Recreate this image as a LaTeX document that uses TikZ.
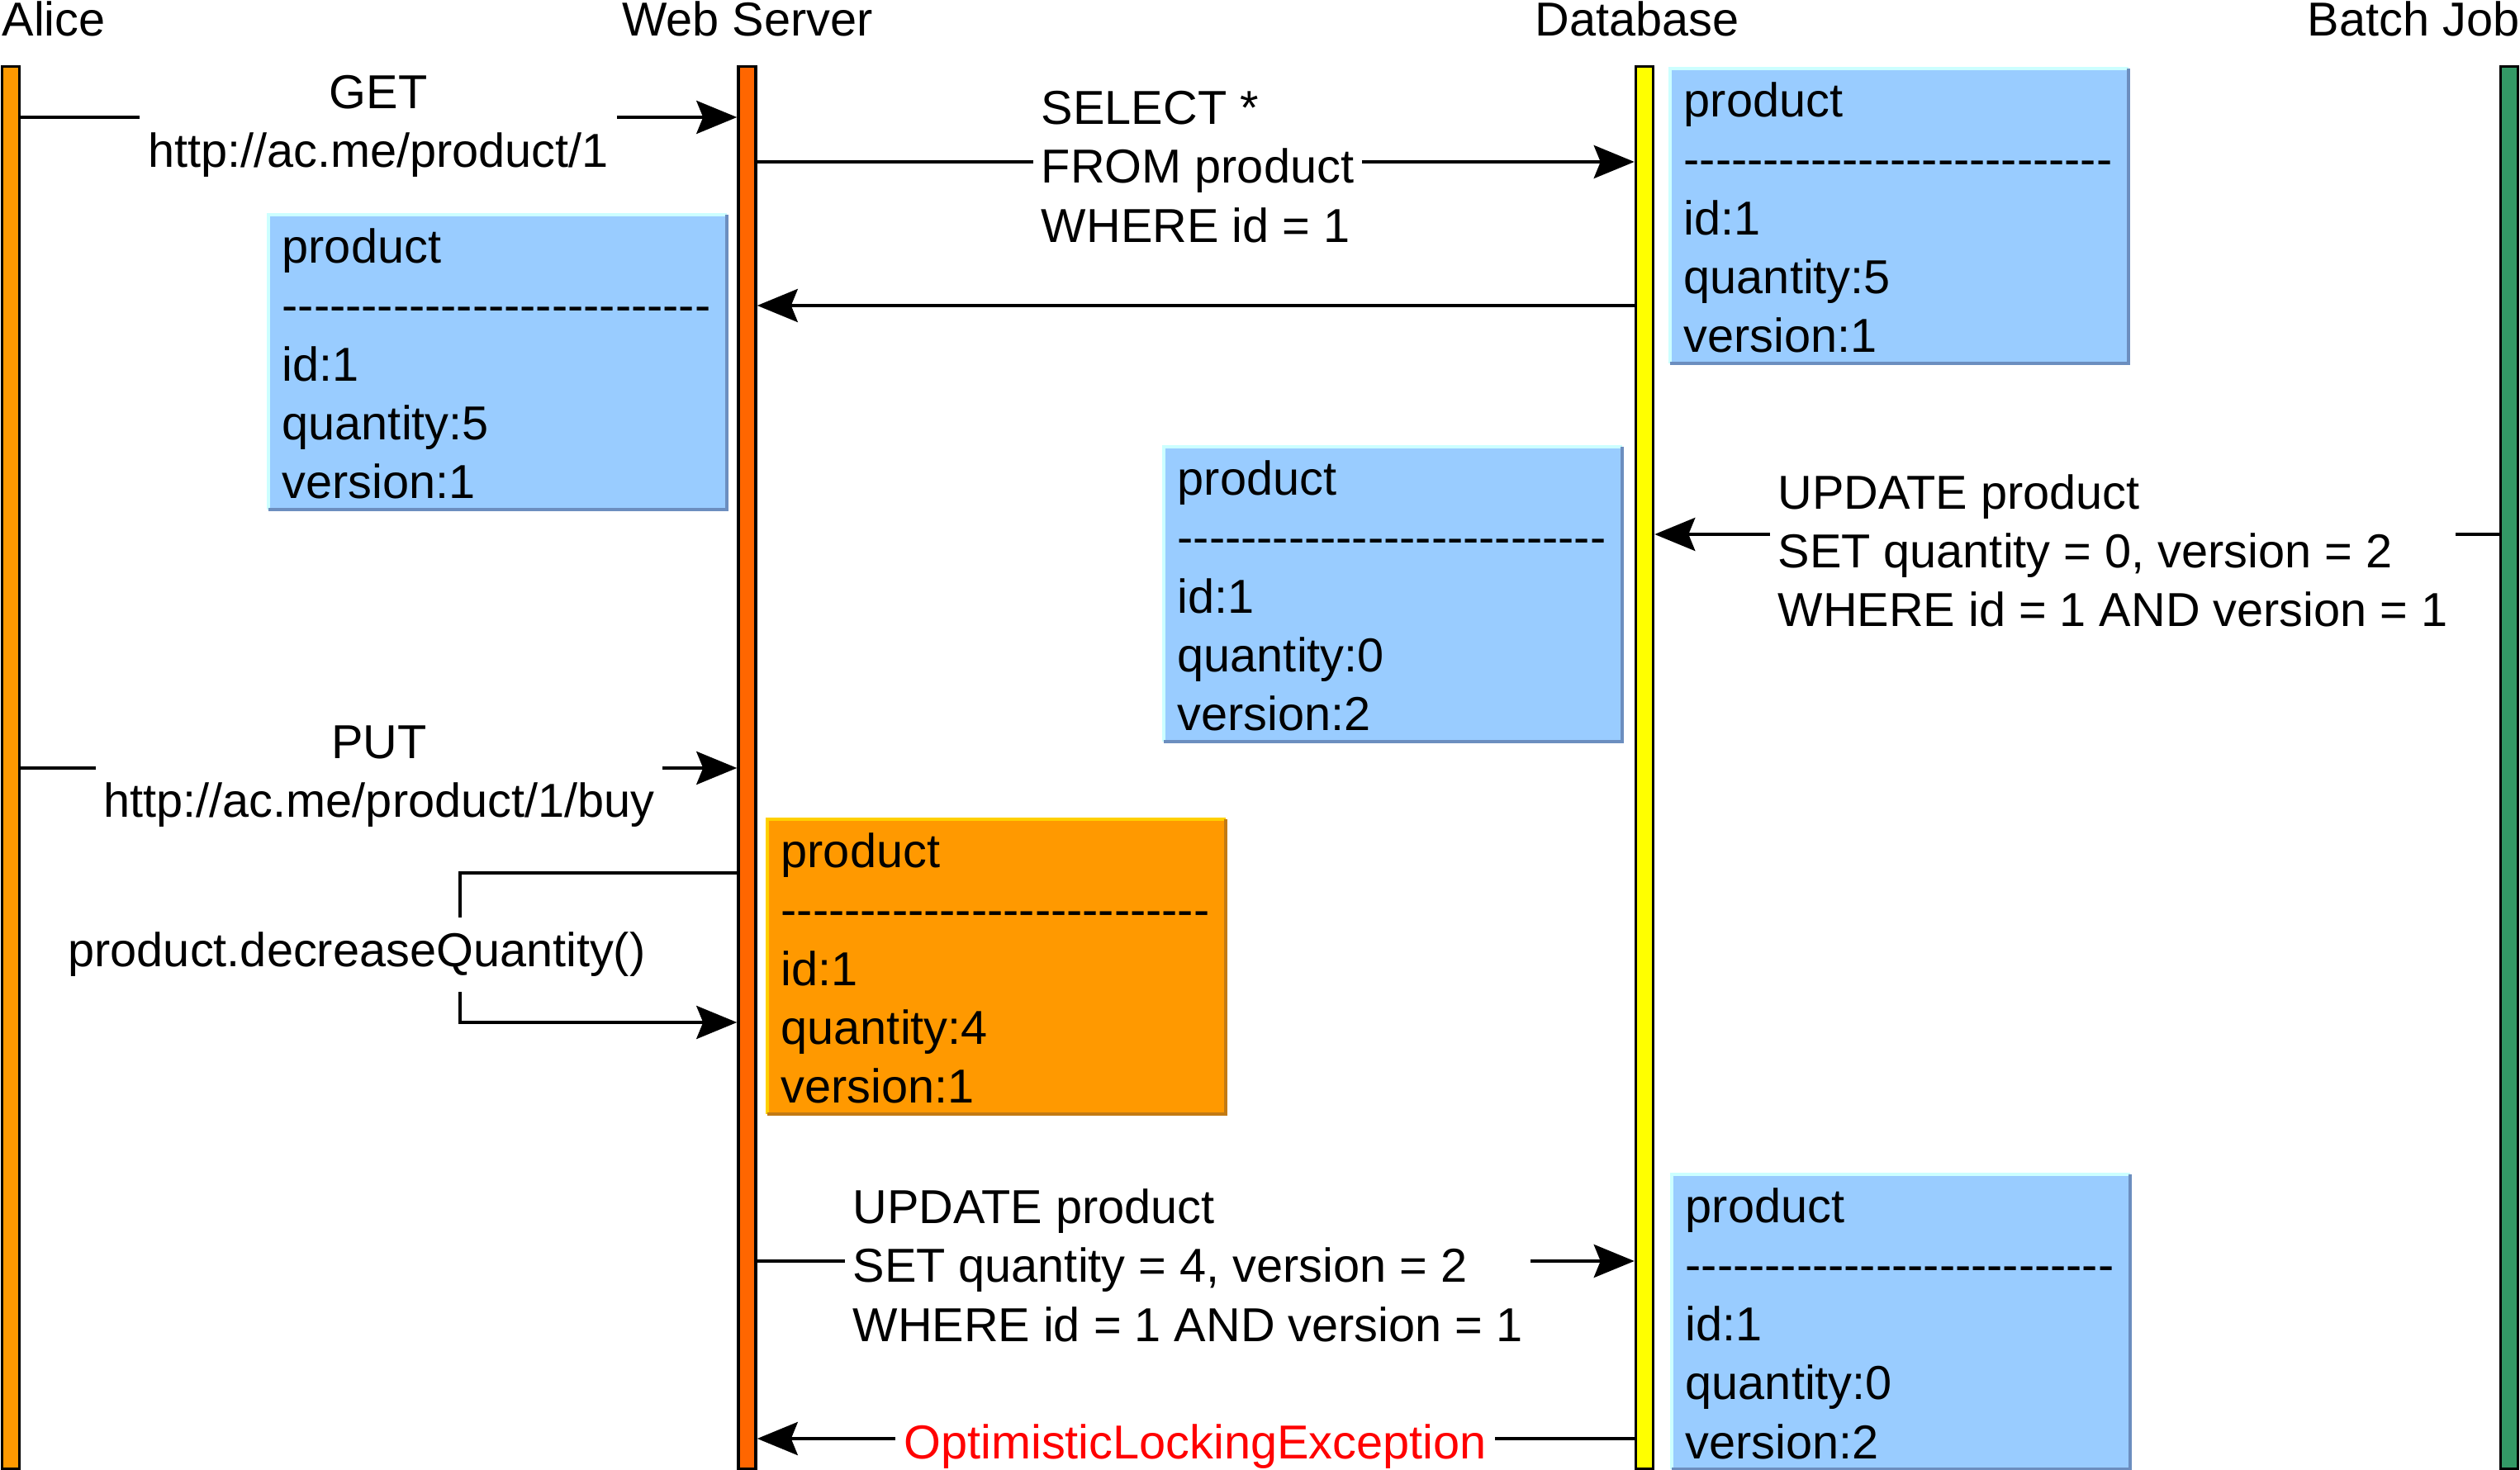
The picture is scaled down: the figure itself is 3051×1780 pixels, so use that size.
\documentclass[tikz,border=0pt]{standalone}
\usepackage{fontspec}
\setmainfont{Liberation Sans}
\usepackage{tikz}
\usetikzlibrary{arrows.meta}
\definecolor{alicebar}{HTML}{FF9900}
\definecolor{serverbar}{HTML}{FF6600}
\definecolor{dbbar}{HTML}{FFFF00}
\definecolor{batchbar}{HTML}{339966}
\definecolor{bluefill}{HTML}{99CCFF}
\definecolor{bluetop}{HTML}{CCFFFF}
\definecolor{blueedge}{HTML}{6C8EBF}
\definecolor{orangefill}{HTML}{FF9900}
\definecolor{orangetop}{HTML}{FFD000}
\definecolor{orangeedge}{HTML}{C27A14}
\definecolor{errred}{HTML}{FF0000}
\newcommand{\dashes}{\mbox{\foreach \k in {1,...,27}{-\kern0pt}}}
\newcommand{\productbox}[5][blue] % [colour]{name}{x,y}{quantity}{version}
{
	\node[record, fill=#1fill] (#2) at (#3) {\rule{0pt}{0.46cm}product\\\dashes\\id:1\\quantity:#4\\version:#5};
	\draw [#1top, line width=0.04cm] (#2.south west) -- (#2.north west) -- (#2.north east);
	\draw [#1edge, line width=0.04cm] (#2.north east) -- (#2.south east) -- (#2.south west);
}
\tikzset{
	bar/.style={draw, line width=0.035cm, minimum width=0.21cm, minimum height=16.97cm, inner sep=0},
	record/.style={anchor=north west, minimum width=5.53cm, minimum height=3.53cm, text width=5.21cm, inner xsep=0.16cm, align=left},
	msg/.style={line width=0.04cm, -{Stealth[length=0.49cm, width=0.40cm, inset=0.08cm]}},
	msgtext/.style={fill=white, inner xsep=0.1cm, inner ysep=0.02cm}
}

\begin{document}
\begin{tikzpicture}[x=0.01cm, y=-0.01cm, font=\fontsize{16.4}{20.3}\selectfont]
	\useasboundingbox (0,0) rectangle (3051,1780);
	%Alice, Web Server, Database, Batch Job.
	\node[bar, fill=alicebar] (alice) at (13,929.4) {};
	\node[bar, fill=serverbar] (server) at (904.5,929.4) {};
	\node[bar, fill=dbbar] (db) at (1991,929.4) {};
	\node[bar, fill=batchbar] (batch) at (3038,929.4) {};
	
	\node[anchor=base west, inner sep=0] (alice-title) at (2,44) {Alice};
	\node[anchor=base, inner sep=0] (server-title) at (905,44) {Web Server};
	\node[anchor=base, inner sep=0] (db-title) at (1982,44) {Database};
	\node[anchor=base east, inner sep=0] (batch-title) at (3051,44) {Batch Job};
	
	\productbox{readrow}{325,260}{5}{1}
	\productbox{dbrow}{2022,83}{5}{1}
	\productbox{batchrow}{1409,541}{0}{2}
	\productbox[orange]{changedrow}{929,992}{4}{1}
	\productbox{lastrow}{2024,1422}{0}{2}
	
	\draw [msg] (alice.east |- 0,142) -- (server.west |- 0,142);
	\draw [msg] (server.east |- 0,196) -- (db.west |- 0,196);
	\draw [msg] (db.west |- 0,370) -- (server.east |- 0,370);
	\draw [msg] (batch.west |- 0,647) -- (db.east |- 0,647);
	\draw [msg] (alice.east |- 0,930) -- (server.west |- 0,930);
	\coordinate (loop) at (557,1148);
	\draw [msg] (server.west |- 0,1057) -| (loop) |- (server.west |- 0,1238);
	\draw [msg] (server.east |- 0,1527) -- (db.west |- 0,1527);
	\draw [msg] (db.west |- 0,1742) -- (server.east |- 0,1742);
	
	\node[msgtext, align=center] (get) at (458,153) {GET\\http://ac.me/product/1};
	\node[msgtext, align=left] (select) at (1450,202) {SELECT *\\FROM product\\WHERE id = 1};
	\node[msgtext, align=left] (batchupdate) at (2558,667) {UPDATE product\\SET quantity = 0, version = 2\\WHERE id = 1 AND version = 1};
	\node[msgtext, align=center] (put) at (459,940) {PUT\\http://ac.me/product/1/buy};
	\node[msgtext, minimum height=0.89cm] (decrease) at (432,1156) {product.decreaseQuantity()};
	\node[msgtext, align=left] (update) at (1438,1532) {UPDATE product\\SET quantity = 4, version = 2\\WHERE id = 1 AND version = 1};
	\node[msgtext, text=errred] (error) at (1447,1752) {OptimisticLockingException};
\end{tikzpicture}
\end{document}
